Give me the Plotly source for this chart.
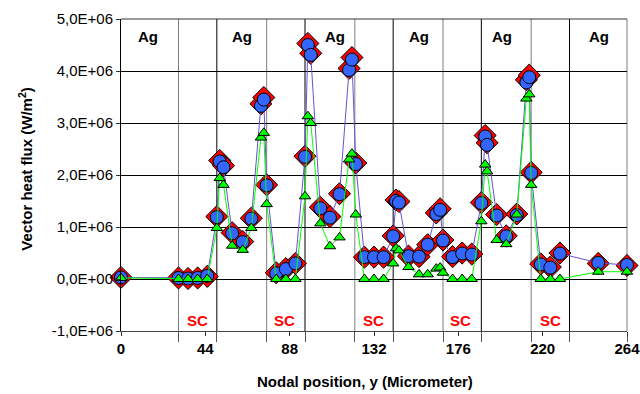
import plotly.graph_objects as go

# Nodal positions (micrometer) shared by the three heat-flux series
nodes = [0, 30, 35, 40, 45, 50, 51.5, 53.5, 58, 63.5, 68, 73, 74.5, 76,
         81, 86, 91, 96, 97.5, 99, 104, 109, 114, 119, 120.5, 122.5,
         127, 132, 137, 142, 143.5, 145, 150, 155.5, 160, 164.5, 166.5, 168,
         173, 178, 183, 188, 190, 191, 196, 201, 206.5, 211.5, 213, 214,
         219, 224, 229, 249, 264]

# Vector heat flux values (W/m^2)
flux_diamond = [0.03, 0.02, 0.01, 0.02, 0.05, 1.20, 2.28, 2.18, 0.89, 0.72, 1.17, 3.37, 3.49, 1.81,
                0.12, 0.20, 0.30, 2.36, 4.53, 4.34, 1.38, 1.20, 1.64, 4.05, 4.26, 2.23,
                0.42, 0.42, 0.42, 0.83, 1.52, 1.49, 0.44, 0.43, 0.66, 1.27, 1.35, 0.75,
                0.43, 0.50, 0.48, 1.47, 2.76, 2.62, 1.24, 0.83, 1.25, 3.83, 3.92, 2.05,
                0.29, 0.23, 0.50, 0.30, 0.26]
flux_circle = [0.03, 0.02, 0.01, 0.02, 0.06, 1.19, 2.26, 2.15, 0.88, 0.71, 1.16, 3.33, 3.45, 1.80,
               0.11, 0.19, 0.30, 2.35, 4.50, 4.31, 1.36, 1.18, 1.63, 4.02, 4.22, 2.21,
               0.42, 0.42, 0.42, 0.82, 1.50, 1.47, 0.44, 0.43, 0.66, 1.25, 1.33, 0.74,
               0.42, 0.49, 0.47, 1.46, 2.74, 2.58, 1.22, 0.82, 1.23, 3.78, 3.88, 2.04,
               0.28, 0.22, 0.49, 0.31, 0.27]
flux_triangle = [0.02, 0.0, 0.0, 0.0, 0.0, 0.98, 1.94, 1.81, 0.64, 0.56, 0.98, 2.72, 2.81, 1.44,
                 0.0, 0.0, 0.0, 1.59, 3.13, 3.00, 1.07, 0.63, 0.80, 2.30, 2.41, 1.24,
                 0.0, 0.0, 0.0, 0.30, 0.59, 0.55, 0.23, 0.09, 0.09, 0.20, 0.22, 0.12,
                 0.0, 0.0, 0.0, 1.11, 2.20, 2.07, 0.75, 0.67, 1.24, 3.47, 3.55, 1.81,
                 0.0, 0.0, 0.0, 0.14, 0.14]

scale = 1e6
flux_diamond = [v * scale for v in flux_diamond]
flux_circle = [v * scale for v in flux_circle]
flux_triangle = [v * scale for v in flux_triangle]

x_ticks = [0, 44, 88, 132, 176, 220, 264]
y_ticks = [-1e6, 0, 1e6, 2e6, 3e6, 4e6, 5e6]
y_tick_text = ["-1,0E+06", "0,0E+00", "1,0E+06", "2,0E+06", "3,0E+06", "4,0E+06", "5,0E+06"]

# Layer boundaries: start of each SC layer, end of each SC layer
sc_starts = [30, 76, 122, 168, 214]
sc_ends = [50, 96, 142, 188, 234]
ag_label_x = [14, 63, 111.5, 155.5, 199, 249.5]
sc_label_x = [40, 85.5, 131.5, 177.3, 224]
ag_label_y = 4.67e6
sc_label_y = -0.79e6

FONT = "Liberation Sans, Arial, sans-serif"

fig = go.Figure()

fig.add_trace(go.Scatter(
    x=nodes, y=flux_diamond, mode="markers", cliponaxis=False,
    marker=dict(symbol="diamond", size=17, color="#ff0000",
                line=dict(color="#000000", width=1)),
    showlegend=False))
fig.add_trace(go.Scatter(
    x=nodes, y=flux_circle, mode="lines+markers", cliponaxis=False,
    line=dict(color="#6a50d0", width=1),
    marker=dict(symbol="circle", size=13, color="#3366ff",
                line=dict(color="#000000", width=1)),
    showlegend=False))
fig.add_trace(go.Scatter(
    x=nodes, y=flux_triangle, mode="lines+markers", cliponaxis=False,
    line=dict(color="#00ff00", width=1),
    marker=dict(symbol="triangle-up", size=10, color="#00ff00",
                line=dict(color="#000000", width=1)),
    showlegend=False))

shapes = []
for xs in sc_starts:
    shapes.append(dict(type="line", xref="x", yref="paper", x0=xs, x1=xs,
                       y0=0, y1=1, layer="below",
                       line=dict(color="#7f7f7f", width=1)))
for xe in sc_ends:
    shapes.append(dict(type="line", xref="x", yref="paper", x0=xe, x1=xe,
                       y0=0, y1=1, layer="below",
                       line=dict(color="#000000", width=1)))
# right and top frame of the plot area
shapes.append(dict(type="line", xref="paper", yref="paper", x0=1, x1=1,
                   y0=0, y1=1, layer="below", line=dict(color="#7f7f7f", width=1)))
shapes.append(dict(type="line", xref="paper", yref="paper", x0=0, x1=1,
                   y0=1, y1=1, layer="below", line=dict(color="#333333", width=1)))

annotations = []
for xa in ag_label_x:
    annotations.append(dict(x=xa, y=ag_label_y, xref="x", yref="y", text="Ag",
                            showarrow=False,
                            font=dict(family=FONT, size=15, color="#000000", weight="bold")))
for xs in sc_label_x:
    annotations.append(dict(x=xs, y=sc_label_y, xref="x", yref="y", text="SC",
                            showarrow=False,
                            font=dict(family=FONT, size=15, color="#ff0000", weight="bold")))
annotations.append(dict(x=-0.188, y=0.52, xref="paper", yref="paper",
                        xanchor="center", yanchor="middle",
                        text="Vector heat flux (W/m<sup>2</sup>)", textangle=-90,
                        showarrow=False,
                        font=dict(family=FONT, size=15, color="#000000", weight="bold")))
annotations.append(dict(x=0.482, y=-0.162, xref="paper", yref="paper",
                        xanchor="center", yanchor="middle",
                        text="Nodal position, y (Micrometer)",
                        showarrow=False,
                        font=dict(family=FONT, size=15, color="#000000", weight="bold")))

fig.update_layout(
    width=640, height=394,
    margin=dict(l=121, r=13, t=19, b=63, autoexpand=False),
    paper_bgcolor="#ffffff", plot_bgcolor="#ffffff",
    font=dict(family=FONT, size=15, color="#000000"),
    shapes=shapes, annotations=annotations,
    xaxis=dict(range=[0, 264.001], tickvals=x_ticks, ticktext=[str(t) for t in x_ticks],
               ticks="outside", ticklen=4, ticklabeloverflow="allow", automargin=False,
               tickcolor="#333333", showline=True, linecolor="#444444", linewidth=1,
               showgrid=False, zeroline=False,
               minor=dict(tickvals=sc_starts + sc_ends + [264], ticks="outside",
                          ticklen=10, tickcolor="#555555", showgrid=False),
               tickfont=dict(family=FONT, size=15, color="#000000", weight="bold")),
    yaxis=dict(range=[-1e6, 5e6], tickvals=y_ticks, ticktext=y_tick_text,
               ticks="outside", ticklen=4, tickcolor="#333333", automargin=False,
               showline=True, linecolor="#000000", linewidth=1,
               showgrid=True, gridcolor="#000000", gridwidth=1, zeroline=False,
               tickfont=dict(family=FONT, size=15, color="#000000")),
)

fig.write_html("out.html")
